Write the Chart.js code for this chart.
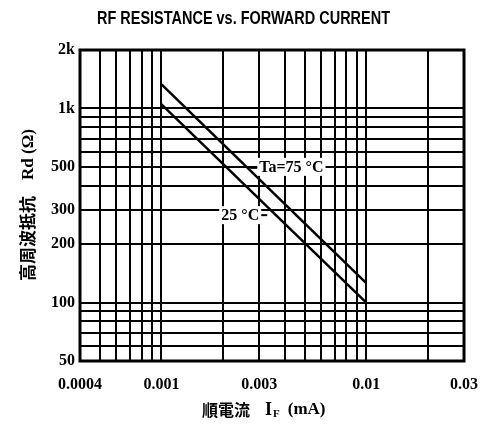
<!DOCTYPE html>
<html>
<head>
<meta charset="utf-8">
<script src="https://cdn.jsdelivr.net/npm/chart.js@4/dist/chart.umd.min.js"></script>
<style>
  html, body { margin: 0; padding: 0; background: #fff; }
</style>
</head>
<body>
<canvas id="chart" width="487" height="432"></canvas>
<script>
// forward current (mA) and RF resistance (ohm)
const currents = [0.001, 0.01];
const rd25 = [1050, 100];
const rd75 = [1330, 126];

// log grid lines and labelled ticks
const xGrid = [0.0004, 0.0005, 0.0006, 0.0007, 0.0008, 0.0009, 0.001, 0.002, 0.003, 0.004,
               0.005, 0.006, 0.007, 0.008, 0.009, 0.01, 0.02, 0.03];
const xLabelValues = [0.0004, 0.001, 0.003, 0.01, 0.03];
const xLabelText = ["0.0004", "0.001", "0.003", "0.01", "0.03"];
const yGrid = [50, 60, 70, 80, 90, 100, 200, 300, 400, 500, 600, 700, 800, 900, 1000, 2000];
const yLabelValues = [50, 100, 200, 300, 500, 1000, 2000];
const yLabelText = ["50", "100", "200", "300", "500", "1k", "2k"];

function pickLabel(values, texts, v) {
    const i = values.findIndex(t => Math.abs(t - v) / t < 1e-6);
    return i >= 0 ? texts[i] : "";
}

const tickFont = { family: "'Liberation Serif', serif", size: 16, weight: "bold" };

const decorPlugin = {
    id: "decor",
    afterDraw(chart) {
        const ctx = chart.ctx;
        const a = chart.chartArea;
        const xs = chart.scales.x;
        const ys = chart.scales.y;
        ctx.save();

        // frame
        ctx.strokeStyle = "#000";
        ctx.lineWidth = 3;
        ctx.strokeRect(a.left, a.top, a.right - a.left, a.bottom - a.top);

        // title, stretched to the width of the original
        const title = "RF RESISTANCE vs. FORWARD CURRENT";
        ctx.font = "bold 17px 'Liberation Sans', sans-serif";
        ctx.fillStyle = "#000";
        ctx.textBaseline = "middle";
        const tw = ctx.measureText(title).width;
        ctx.save();
        ctx.translate(97, 19);
        ctx.scale(293 / tw, 1.05);
        ctx.textAlign = "left";
        ctx.fillText(title, 0, 0);
        ctx.restore();

        // curve labels with white boxes over the grid
        function boxLabel(text, x, y, align) {
            ctx.font = "bold 16px 'Liberation Serif', serif";
            const w = ctx.measureText(text).width;
            const left = align === "left" ? x : x - w;
            ctx.fillStyle = "#fff";
            ctx.fillRect(left - 2, y - 9, w + 4, 18);
            ctx.fillStyle = "#000";
            ctx.textAlign = "left";
            ctx.fillText(text, left, y + 1);
        }
        const y75 = ys.getPixelForValue(500);
        const x75 = xs.getPixelForValue(0.003);
        boxLabel("Ta=75 °C", x75, y75, "left");
        ctx.lineWidth = 2;
        ctx.beginPath();
        ctx.moveTo(x75 - 9, y75 + 1);
        ctx.lineTo(x75 - 2, y75 + 1);
        ctx.stroke();

        const y25 = ys.getPixelForValue(282);
        const x25 = xs.getPixelForValue(0.003);
        boxLabel("25 °C", x25, y25, "right");
        ctx.beginPath();
        ctx.moveTo(x25 + 2, y25);
        ctx.lineTo(x25 + 8, y25);
        ctx.stroke();

        // y axis title
        ctx.save();
        ctx.translate(28, 205);
        ctx.rotate(-Math.PI / 2);
        ctx.textBaseline = "middle";
        ctx.font = "bold 17px 'Noto Sans CJK JP', sans-serif";
        const jp = "高周波抵抗";
        const rd = "Rd (Ω)";
        const jw = ctx.measureText(jp).width;
        ctx.font = "bold 17px 'Liberation Serif', serif";
        const rw = ctx.measureText(rd).width;
        let start = -(jw + 16 + rw) / 2;
        ctx.font = "bold 17px 'Noto Sans CJK JP', sans-serif";
        ctx.textAlign = "left";
        ctx.fillText(jp, start, 0);
        ctx.font = "bold 17px 'Liberation Serif', serif";
        ctx.fillText(rd, start + jw + 16, 1);
        ctx.restore();

        // x axis title with subscript
        let px = 202;
        const py = 410;
        ctx.textAlign = "left";
        ctx.textBaseline = "middle";
        ctx.font = "bold 16px 'Noto Sans CJK JP', sans-serif";
        ctx.fillText("順電流", px, py);
        px += ctx.measureText("順電流").width + 15;
        ctx.font = "bold 18px 'Liberation Serif', serif";
        ctx.fillText("I", px, py);
        px += ctx.measureText("I").width + 1;
        ctx.font = "bold 11px 'Liberation Serif', serif";
        ctx.fillText("F", px, py + 4);
        px += ctx.measureText("F").width + 8;
        ctx.font = "bold 17px 'Liberation Serif', serif";
        ctx.fillText("(mA)", px, py);

        ctx.restore();
    }
};

new Chart(document.getElementById("chart"), {
    type: "line",
    data: {
        datasets: [
            {
                label: "Ta=75 °C",
                data: currents.map((c, i) => ({ x: c, y: rd75[i] })),
                borderColor: "#000",
                borderWidth: 2.5,
                pointRadius: 0,
                tension: 0
            },
            {
                label: "25 °C",
                data: currents.map((c, i) => ({ x: c, y: rd25[i] })),
                borderColor: "#000",
                borderWidth: 2.5,
                pointRadius: 0,
                tension: 0
            }
        ]
    },
    options: {
        responsive: false,
        animation: false,
        layout: { padding: { top: 50, right: 23, left: 0, bottom: 0 } },
        plugins: { legend: { display: false }, tooltip: { enabled: false } },
        scales: {
            x: {
                type: "logarithmic",
                min: 0.0004,
                max: 0.03,
                afterBuildTicks: scale => { scale.ticks = xGrid.map(v => ({ value: v })); },
                afterFit: scale => {
                    scale.height = 71;
                    scale.paddingLeft = 0;
                    scale.paddingRight = 0;
                },
                grid: { color: "#000", lineWidth: 2, drawTicks: false },
                border: { display: false },
                ticks: {
                    autoSkip: false,
                    maxRotation: 0,
                    padding: 14,
                    color: "#000",
                    font: tickFont,
                    callback: v => pickLabel(xLabelValues, xLabelText, v)
                }
            },
            y: {
                type: "logarithmic",
                min: 50,
                max: 2000,
                afterBuildTicks: scale => { scale.ticks = yGrid.map(v => ({ value: v })); },
                afterFit: scale => {
                    scale.width = 80;
                    scale.paddingTop = 0;
                    scale.paddingBottom = 0;
                },
                grid: { color: "#000", lineWidth: 2, drawTicks: false },
                border: { display: false },
                ticks: {
                    autoSkip: false,
                    padding: 5,
                    color: "#000",
                    font: tickFont,
                    callback: v => pickLabel(yLabelValues, yLabelText, v)
                }
            }
        }
    },
    plugins: [decorPlugin]
});
</script>
</body>
</html>
